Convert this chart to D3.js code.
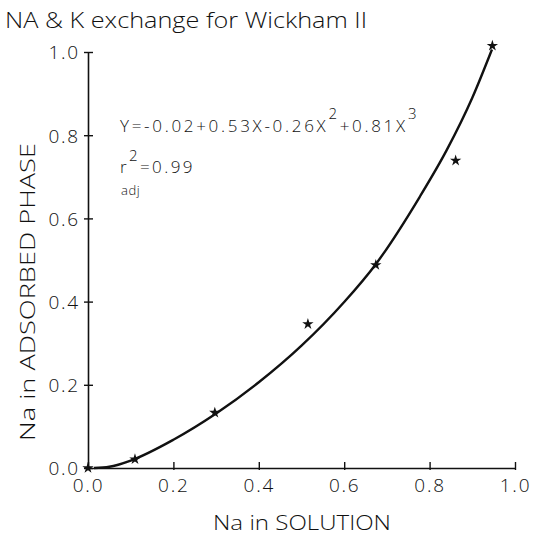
<!DOCTYPE html>
<html>
<head>
<meta charset="utf-8">
<script src="https://cdn.jsdelivr.net/npm/d3@7"></script>
<style>
  html, body { margin: 0; padding: 0; background: #fff; }
  svg { display: block; }
  text { font-family: "Open Sans", "DejaVu Sans", sans-serif; font-weight: 300; fill: #111; }
</style>
</head>
<body>
<svg id="chart" width="541" height="541"></svg>
<script>
// Observed exchange data: Na fraction in solution vs Na fraction in adsorbed phase
const naSolution = [0.0, 0.11, 0.297, 0.515, 0.674, 0.861, 0.947];
const naAdsorbed = [0.0, 0.021, 0.133, 0.346, 0.488, 0.739, 1.015];

// Fitted curve, traced along its length
const fitX = [0.014, 0.05, 0.1, 0.2, 0.3, 0.4, 0.5, 0.6, 0.674, 0.777, 0.84, 0.9, 0.946];
const fitY = [0.0, 0.003, 0.018, 0.068, 0.131, 0.206, 0.294, 0.399, 0.49, 0.652, 0.764, 0.89, 1.006];

const xTicks = [0.0, 0.2, 0.4, 0.6, 0.8, 1.0];
const yTicks = [0.0, 0.2, 0.4, 0.6, 0.8, 1.0];

const titleText = "NA & K exchange for Wickham II";
const xTitle = "Na in SOLUTION";
const yTitle = "Na in ADSORBED PHASE";

const svg = d3.select("#chart");
const x = d3.scaleLinear().domain([0, 1]).range([88, 515]);
const y = d3.scaleLinear().domain([0, 1]).range([468, 52]);

// Title
svg.append("text")
  .attr("x", 5).attr("y", 28)
  .attr("font-size", 22)
  .attr("textLength", 362)
  .attr("lengthAdjust", "spacingAndGlyphs")
  .text(titleText);

// Y axis: ticks cross the spine
const gy = svg.append("g").attr("transform", `translate(${x(0)},0)`)
  .call(d3.axisLeft(y).tickValues(yTicks).tickFormat(d3.format(".1f")).tickSize(4).tickSizeOuter(0));
gy.attr("font-family", null).attr("font-size", null);
gy.select(".domain").attr("stroke", "#111").attr("stroke-width", 1.6);
gy.selectAll(".tick line").attr("x1", -4).attr("x2", 5).attr("stroke", "#111").attr("stroke-width", 1.4);
gy.selectAll(".tick text")
  .attr("x", -8).attr("dy", "0.36em")
  .attr("font-size", 19).attr("letter-spacing", 1.8)
  .attr("fill", "#111");

// X axis
const gx = svg.append("g").attr("transform", `translate(0,${y(0)})`)
  .call(d3.axisBottom(x).tickValues(xTicks).tickFormat(d3.format(".1f")).tickSize(3).tickSizeOuter(0));
gx.attr("font-family", null).attr("font-size", null);
gx.select(".domain").attr("stroke", "#111").attr("stroke-width", 1.6);
gx.selectAll(".tick line").attr("y1", -6).attr("y2", 2).attr("stroke", "#111").attr("stroke-width", 1.4);
gx.selectAll(".tick text")
  .attr("y", 11).attr("dy", "0.71em")
  .attr("font-size", 19).attr("letter-spacing", 1.8)
  .attr("fill", "#111");

// Axis titles
svg.append("text")
  .attr("x", 302).attr("y", 530)
  .attr("text-anchor", "middle")
  .attr("font-size", 20)
  .attr("textLength", 178)
  .attr("lengthAdjust", "spacingAndGlyphs")
  .text(xTitle);
svg.append("text")
  .attr("transform", "translate(35,292) rotate(-90)")
  .attr("text-anchor", "middle")
  .attr("font-size", 20)
  .attr("textLength", 298)
  .attr("lengthAdjust", "spacingAndGlyphs")
  .text(yTitle);

// Regression equation
const eq = svg.append("text").attr("x", 120).attr("y", 132).attr("font-size", 17).attr("letter-spacing", 2.7);
eq.append("tspan").text("Y=-0.02+0.53X-0.26X");
eq.append("tspan").attr("dy", -13).attr("font-size", 15).text("2");
eq.append("tspan").attr("dy", 13).text("+0.81X");
eq.append("tspan").attr("dy", -13).attr("font-size", 15).text("3");

// Adjusted coefficient of determination, with its subscript on a line of its own
const r2 = svg.append("text").attr("x", 120).attr("y", 173).attr("font-size", 17).attr("letter-spacing", 2.4);
r2.append("tspan").text("r");
r2.append("tspan").attr("dy", -12).attr("font-size", 15).text("2");
r2.append("tspan").attr("dy", 12).text("=0.99");
svg.append("text")
  .attr("x", 121).attr("y", 195)
  .attr("font-size", 13).attr("letter-spacing", 0.5)
  .text("adj");

// Fitted curve
const fit = fitX.map((v, i) => [v, fitY[i]]);
svg.append("path")
  .datum(fit)
  .attr("fill", "none")
  .attr("stroke", "#111")
  .attr("stroke-width", 2.4)
  .attr("d", d3.line().x(d => x(d[0])).y(d => y(d[1])).curve(d3.curveMonotoneX));

// Observed points as stars
const star = d3.symbol().type(d3.symbolStar).size(40);
svg.append("g").selectAll("path")
  .data(naSolution.map((v, i) => [v, naAdsorbed[i]]))
  .join("path")
  .attr("transform", d => `translate(${x(d[0])},${y(d[1])})`)
  .attr("d", star)
  .attr("fill", "#111");
</script>
</body>
</html>
